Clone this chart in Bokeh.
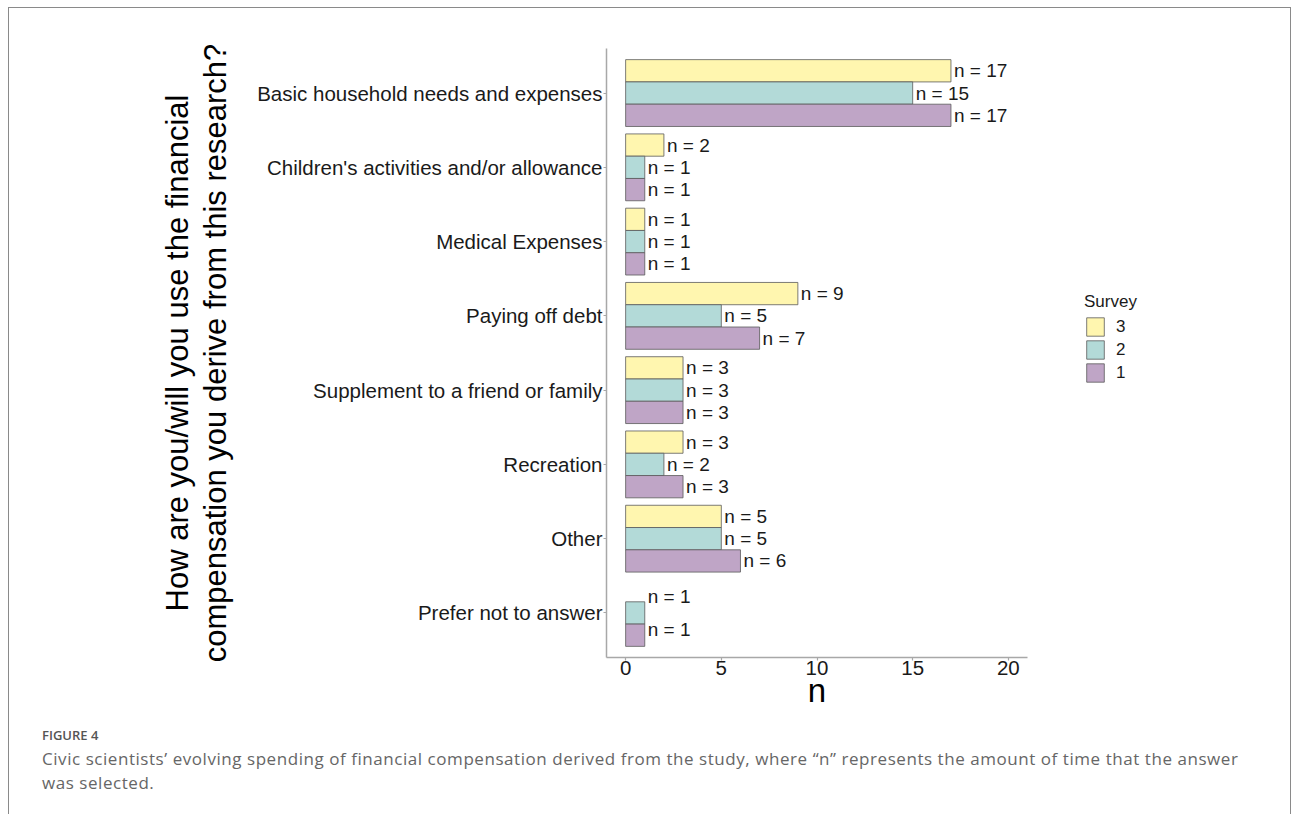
from bokeh.plotting import figure
from bokeh.models import (ColumnDataSource, FactorRange, Range1d, Legend,
                          LegendItem, Div, Title)
from bokeh.layouts import column
from bokeh.transform import dodge
from bokeh.core.properties import value
from bokeh.embed import file_html
from bokeh.resources import INLINE

# ---------------- data ----------------
categories = [
    "Basic household needs and expenses",
    "Children's activities and/or allowance",
    "Medical Expenses",
    "Paying off debt",
    "Supplement to a friend or family",
    "Recreation",
    "Other",
    "Prefer not to answer",
]
survey_names = ["3", "2", "1"]
survey3 = [17, 2, 1, 9, 3, 3, 5, None]
survey2 = [15, 1, 1, 5, 3, 2, 5, 1]
survey1 = [17, 1, 1, 7, 3, 3, 6, 1]
x_ticks = [0, 5, 10, 15, 20]
x_limits = (-1, 21)
colors = ["#FFF6AF", "#B3DAD8", "#BFA5C6"]

y_title = "How are you/will you use the financial\ncompensation you derive from this research?"
x_title = "n"
legend_title = "Survey"
fig_label = "FIGURE 4"
caption_line1 = ("Civic scientists\u2019 evolving spending of financial compensation derived from the study, "
                 "where \u201cn\u201d represents the amount of time that the answer")
caption_line2 = "was selected."

FONT = "Liberation Sans"
series = [survey3, survey2, survey1]

# layout (pixels)
W, H = 1293, 814
FIG_H = 730
LEFT, AXIS_RIGHT, TOP, BOTTOM = 606, 1027, 48, 657
FRAME_RIGHT = 1200
x_end = x_limits[0] + (FRAME_RIGHT - LEFT) * (x_limits[1] - x_limits[0]) / (AXIS_RIGHT - LEFT)
X_TITLE_SIZE = 33
x_title_half_width = 0.556 * X_TITLE_SIZE / 2

frame_css = """
:host { position: relative; }
:host::after {
  content: ""; position: absolute; left: 8px; top: 7px; width: 1283px; height: 830px;
  border-top: 1.5px solid #8a8a8a; border-left: 1.5px solid #8a8a8a;
  border-right: 1.5px solid #8a8a8a; pointer-events: none; box-sizing: border-box;
}
"""

p = figure(width=W, height=FIG_H,
           y_range=FactorRange(factors=categories[::-1], range_padding=0.1,
                               range_padding_units="absolute"),
           x_range=Range1d(x_limits[0], x_end),
           output_backend="svg", toolbar_location=None,
           min_border_left=LEFT, min_border_right=W - FRAME_RIGHT,
           min_border_top=TOP, min_border_bottom=FIG_H - BOTTOM)
p.outline_line_color = None
p.xgrid.grid_line_color = None
p.ygrid.grid_line_color = None
p.background_fill_color = "white"
p.border_fill_color = "white"

# ---------------- bars ----------------
dodge_width = 0.9
nslots = len(survey_names)
bar_h = dodge_width / nslots
renderers = []
for i, (name, vals, col) in enumerate(zip(survey_names, series, colors)):
    off = ((nslots - 1) / 2 - i) * bar_h
    cats = [c for c, v in zip(categories, vals) if v is not None]
    vv = [v for v in vals if v is not None]
    src = ColumnDataSource(dict(cat=cats, val=vv))
    r = p.hbar(y=dodge("cat", off, range=p.y_range), left=0, right="val",
               height=bar_h, source=src, fill_color=col,
               line_color="#5a5a5a", line_width=0.8)
    renderers.append(r)

# ---------------- bar labels (dodged among present groups) ----------------
groups = {}
for ci, c in enumerate(categories):
    present = [(i, series[i][ci]) for i in range(nslots) if series[i][ci] is not None]
    k = len(present)
    w = dodge_width / k
    for j, (i, v) in enumerate(present):
        off = round(((k - 1) / 2 - j) * w, 6)
        groups.setdefault(off, {"cat": [], "x": [], "txt": []})
        groups[off]["cat"].append(c)
        groups[off]["x"].append(v)
        groups[off]["txt"].append(f"n = {v}")
for off, d in groups.items():
    src = ColumnDataSource(d)
    p.text(x="x", y=dodge("cat", off, range=p.y_range), text="txt", source=src,
           x_offset=3, text_align="left", text_baseline="middle",
           text_font=value(FONT), text_font_size="19px", text_color="#1a1a1a")

# ---------------- axes ----------------
axis_col = "#A8A8A8"
for ax in (p.xaxis[0], p.yaxis[0]):
    ax.axis_line_color = axis_col
    ax.axis_line_width = 1.5
    ax.major_tick_line_color = axis_col
    ax.major_tick_line_width = 1.2
    ax.major_tick_in = 0
    ax.major_tick_out = 3
    ax.minor_tick_line_color = None
    ax.major_label_text_font = FONT
    ax.major_label_text_font_size = "20.5px"
    ax.major_label_text_color = "#1a1a1a"
p.xaxis.ticker = x_ticks
p.xaxis.bounds = x_limits
p.xaxis.major_label_standoff = 0
p.yaxis.major_label_standoff = 1

p.yaxis.axis_label = y_title
p.yaxis.axis_label_text_font = FONT
p.yaxis.axis_label_text_font_size = "31px"
p.yaxis.axis_label_text_font_style = "normal"
p.yaxis.axis_label_text_color = "#000000"
p.yaxis.axis_label_text_line_height = 1.1
p.yaxis.axis_label_standoff = 21

# x axis title, centred under the bounded axis (not the widened frame)
x_title_obj = Title(text=x_title, align="left",
                    offset=(LEFT + AXIS_RIGHT) / 2 - LEFT - x_title_half_width,
                    text_font=FONT, text_font_size=f"{X_TITLE_SIZE}px",
                    text_font_style="normal", text_color="#000000",
                    vertical_align="bottom")
try:
    x_title_obj.standoff = -16
except Exception:
    x_title_obj.standoff = 0
p.add_layout(x_title_obj, "below")

# ---------------- legend (inside the widened frame, right of the axis) ----------------
legend = Legend(items=[LegendItem(label=n, renderers=[r])
                       for n, r in zip(survey_names, renderers)],
                title=legend_title, location=(1084 - LEFT, BOTTOM - 384),
                glyph_width=22, glyph_height=23, spacing=0, padding=0,
                margin=0, label_standoff=10,
                label_text_font=FONT, label_text_font_size="17px",
                label_text_color="#1a1a1a",
                title_text_font=FONT, title_text_font_size="17px",
                title_text_font_style="normal", title_text_color="#1a1a1a",
                title_standoff=3,
                border_line_color=None, background_fill_alpha=0)
p.add_layout(legend, "center")

# ---------------- caption ----------------
cap_html = f"""
<div style="position:relative; width:{W}px; height:{H - FIG_H}px; font-family:'Open Sans', sans-serif;">
  <div style="position:absolute; left:42px; top:-2px; font-size:13px; line-height:14px;
              font-weight:600; color:#555555; white-space:nowrap;">{fig_label}</div>
  <div style="position:absolute; left:42px; top:17px; font-size:17px; line-height:24px;
              color:#666666; letter-spacing:0.55px; white-space:nowrap;">{caption_line1}<br>{caption_line2}</div>
</div>
"""
cap = Div(text=cap_html, width=W, height=H - FIG_H, margin=0)

layout = column(p, cap, spacing=0, width=W, height=H, stylesheets=[frame_css])

open("out.html", "w").write(file_html(layout, INLINE))
